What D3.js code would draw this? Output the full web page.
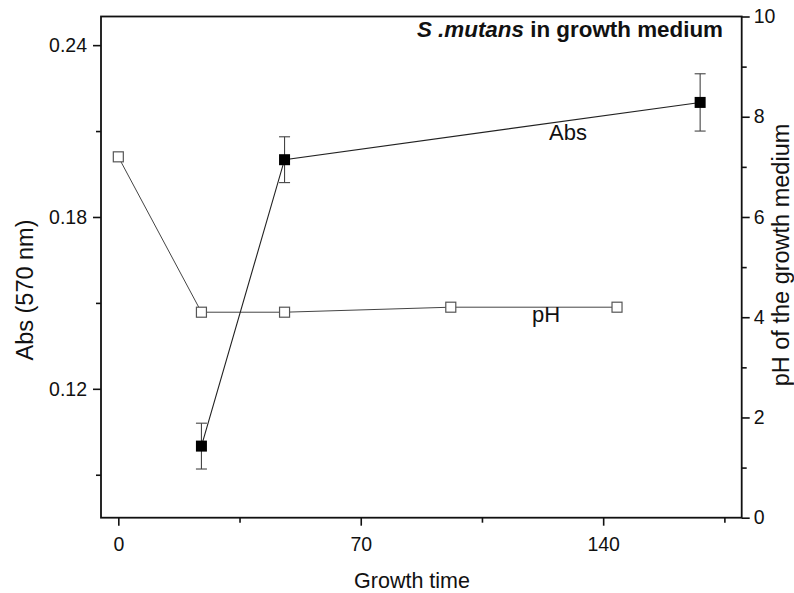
<!DOCTYPE html>
<html>
<head>
<meta charset="utf-8">
<script src="https://cdn.jsdelivr.net/npm/d3@7"></script>
<style>
  html, body { margin: 0; padding: 0; background: #fff; }
  svg text { font-family: "Liberation Sans", Arial, sans-serif; fill: #111; }
</style>
</head>
<body>
<svg id="chart" width="794" height="593"></svg>
<script>
// Growth time points (h)
const absTime = [24, 48, 168];
const absValues = [0.100, 0.200, 0.220];
const absErrors = [0.008, 0.008, 0.010];

const phTime = [0, 24, 48, 96, 144];
const phValues = [7.2, 4.1, 4.1, 4.2, 4.2];

const xTicks = [0, 70, 140];
const xMinorTicks = [35, 105, 175];
const leftTicks = [0.12, 0.18, 0.24];
const leftMinorTicks = [0.09, 0.15, 0.21];
const rightTicks = [0, 2, 4, 6, 8, 10];
const rightMinorTicks = [1, 3, 5, 7, 9];

const svg = d3.select("#chart");
const m = { left: 101, top: 16.5, right: 741.7, bottom: 517.7 };

const x = d3.scaleLinear().domain([-5, 180]).range([m.left, m.right]);
const yAbs = d3.scaleLinear().domain([0.075, 0.25]).range([m.bottom, m.top]);
const yPh = d3.scaleLinear().domain([0, 10]).range([m.bottom, m.top]);

const tickFont = "19.5px";

// Bottom axis
svg.append("g").attr("transform", `translate(0,${m.bottom})`)
  .call(d3.axisBottom(x).tickValues(xTicks).tickSize(8).tickPadding(11).tickFormat(d3.format("d")));
svg.append("g").attr("transform", `translate(0,${m.bottom})`)
  .call(d3.axisBottom(x).tickValues(xMinorTicks).tickSize(5).tickFormat(""));

// Left axis (absorbance)
svg.append("g").attr("transform", `translate(${m.left},0)`)
  .call(d3.axisLeft(yAbs).tickValues(leftTicks).tickSize(8).tickPadding(6).tickFormat(d3.format(".2f")));
svg.append("g").attr("transform", `translate(${m.left},0)`)
  .call(d3.axisLeft(yAbs).tickValues(leftMinorTicks).tickSize(5).tickFormat(""));

// Right axis (pH)
svg.append("g").attr("transform", `translate(${m.right},0)`)
  .call(d3.axisRight(yPh).tickValues(rightTicks).tickSize(8).tickPadding(4).tickFormat(d3.format("d")));
svg.append("g").attr("transform", `translate(${m.right},0)`)
  .call(d3.axisRight(yPh).tickValues(rightMinorTicks).tickSize(5).tickFormat(""));

svg.selectAll(".domain").remove();
svg.selectAll(".tick line").attr("stroke", "#111").attr("stroke-width", 1.6);
svg.selectAll(".tick text").style("font-size", tickFont).attr("fill", "#111");

// Frame
svg.append("rect")
  .attr("x", m.left).attr("y", m.top)
  .attr("width", m.right - m.left).attr("height", m.bottom - m.top)
  .attr("fill", "none").attr("stroke", "#111").attr("stroke-width", 1.8);

// pH series: thin line with open squares
const phData = phTime.map((t, i) => ({ t, v: phValues[i] }));
svg.append("path").datum(phData)
  .attr("fill", "none").attr("stroke", "#444").attr("stroke-width", 1)
  .attr("d", d3.line().x(d => x(d.t)).y(d => yPh(d.v)));

// Abs series: line, error bars, filled squares
const absData = absTime.map((t, i) => ({ t, v: absValues[i], e: absErrors[i] }));
svg.append("path").datum(absData)
  .attr("fill", "none").attr("stroke", "#222").attr("stroke-width", 1.1)
  .attr("d", d3.line().x(d => x(d.t)).y(d => yAbs(d.v)));

const eb = svg.append("g").attr("stroke", "#444").attr("stroke-width", 1.1);
absData.forEach(d => {
  const cx = x(d.t), y1 = yAbs(d.v + d.e), y2 = yAbs(d.v - d.e);
  eb.append("line").attr("x1", cx).attr("x2", cx).attr("y1", y1).attr("y2", y2);
  eb.append("line").attr("x1", cx - 5.5).attr("x2", cx + 5.5).attr("y1", y1).attr("y2", y1);
  eb.append("line").attr("x1", cx - 5.5).attr("x2", cx + 5.5).attr("y1", y2).attr("y2", y2);
});

svg.append("g").selectAll("rect").data(phData).join("rect")
  .attr("x", d => x(d.t) - 5).attr("y", d => yPh(d.v) - 5)
  .attr("width", 10).attr("height", 10)
  .attr("fill", "#fff").attr("stroke", "#555").attr("stroke-width", 1.2);

svg.append("g").selectAll("rect").data(absData).join("rect")
  .attr("x", d => x(d.t) - 5.5).attr("y", d => yAbs(d.v) - 5.5)
  .attr("width", 11).attr("height", 11)
  .attr("fill", "#000");

// Series labels
svg.append("text").attr("x", 549).attr("y", 140).style("font-size", "22px").text("Abs");
svg.append("text").attr("x", 532).attr("y", 322).style("font-size", "22px").text("pH");

// Title
const title = svg.append("text").attr("x", 723).attr("y", 37)
  .attr("text-anchor", "end").style("font-size", "22.4px").style("font-weight", "bold");
title.append("tspan").style("font-style", "italic").text("S .mutans");
title.append("tspan").text(" in growth medium");

// Axis titles
svg.append("text").attr("x", 412).attr("y", 588).attr("text-anchor", "middle")
  .style("font-size", "21.5px").text("Growth time");
svg.append("text").attr("transform", "translate(33,290) rotate(-90)")
  .attr("text-anchor", "middle").style("font-size", "23.5px").text("Abs (570 nm)");
svg.append("text").attr("transform", "translate(789,255) rotate(-90)")
  .attr("text-anchor", "middle").style("font-size", "23.5px").text("pH of the growth medium");
</script>
</body>
</html>
